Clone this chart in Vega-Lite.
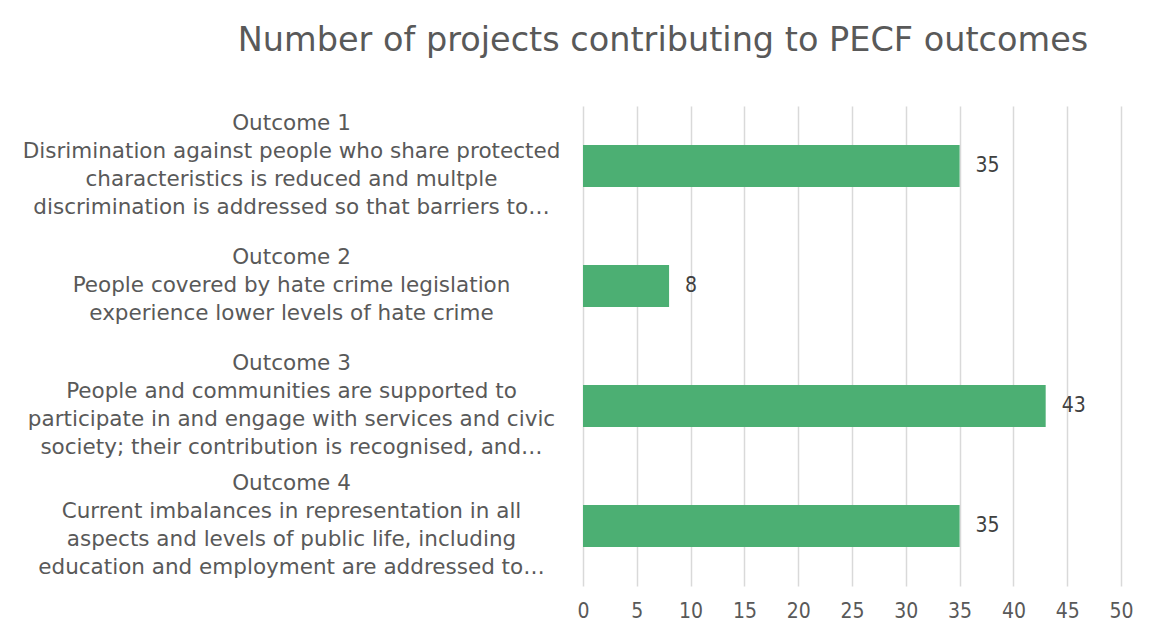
{
  "$schema": "https://vega.github.io/schema/vega-lite/v6.json",
  "autosize": {"type": "none"},
  "padding": {"left": 583, "top": 106, "right": 33, "bottom": 54},
  "width": 538,
  "height": 480,
  "background": "white",
  "title": {
    "text": "Number of projects contributing to PECF outcomes",
    "font": "DejaVu Sans",
    "fontSize": 33.5,
    "fontWeight": "normal",
    "color": "#595959",
    "anchor": "middle",
    "frame": "group",
    "dx": -189,
    "dy": 32,
    "baseline": "alphabetic",
    "offset": 54
  },
  "data": {
    "values": [
      {"outcome": "Outcome 1|Disrimination against people who share protected|characteristics is reduced and multple|discrimination is addressed so that barriers to…", "projects": 35},
      {"outcome": "Outcome 2|People covered by hate crime legislation|experience lower levels of hate crime", "projects": 8},
      {"outcome": "Outcome 3|People and communities are supported to|participate in and engage with services and civic|society; their contribution is recognised, and…", "projects": 43},
      {"outcome": "Outcome 4|Current imbalances in representation in all|aspects and levels of public life, including|education and employment are addressed to…", "projects": 35}
    ]
  },
  "encoding": {
    "y": {
      "field": "outcome",
      "type": "nominal",
      "sort": null,
      "title": null,
      "scale": {"paddingInner": 0.65, "paddingOuter": 0.325},
      "axis": {
        "domain": false,
        "ticks": false,
        "grid": false,
        "labelExpr": "split(datum.label, '|')",
        "labelAlign": "center",
        "labelBaseline": "middle",
        "labelPadding": 292,
        "labelLimit": 700,
        "labelOffset": {"condition": {"test": "indexof(datum.value, 'Outcome 2') == 0", "value": -28}, "value": -42},
        "labelFont": "DejaVu Sans",
        "labelFontSize": 21.5,
        "labelLineHeight": 28,
        "labelColor": "#595959"
      }
    },
    "x": {
      "field": "projects",
      "type": "quantitative",
      "title": null,
      "scale": {"domain": [0, 50], "nice": false},
      "axis": {
        "values": [0, 5, 10, 15, 20, 25, 30, 35, 40, 45, 50],
        "domain": false,
        "ticks": false,
        "grid": true,
        "gridColor": "#d9d9d9",
        "gridWidth": 1.5,
        "labelFlush": false,
        "labelFont": "DejaVu Sans Condensed",
        "labelFontSize": 21,
        "labelColor": "#595959",
        "labelPadding": 14
      }
    }
  },
  "layer": [
    {"mark": {"type": "bar", "color": "#4caf73"}},
    {
      "mark": {"type": "text", "align": "left", "baseline": "middle", "dx": 16, "font": "DejaVu Sans Condensed", "fontSize": 21, "color": "#404040"},
      "encoding": {"text": {"field": "projects", "type": "quantitative"}}
    }
  ],
  "config": {"view": {"stroke": null}}
}
